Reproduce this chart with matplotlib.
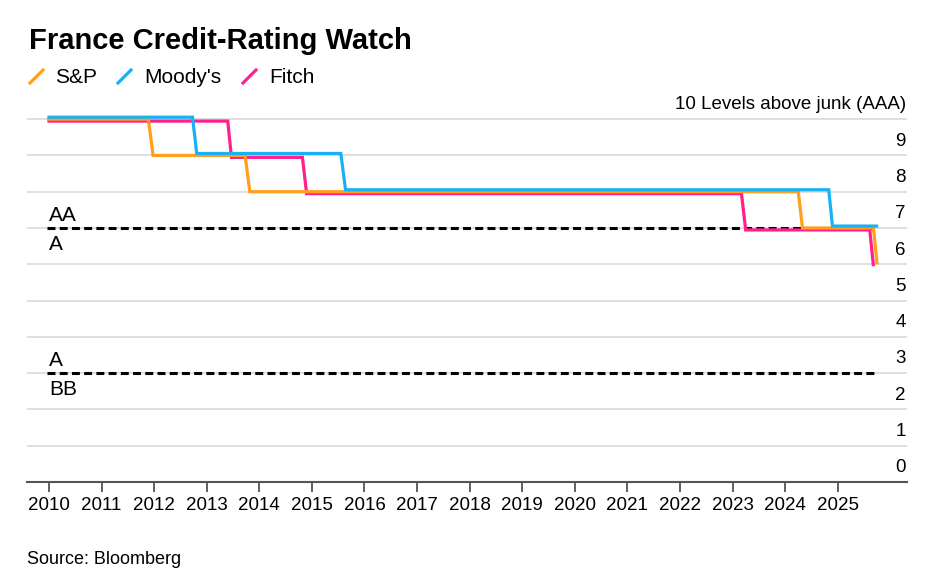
import matplotlib
matplotlib.use("Agg")
import matplotlib.pyplot as plt
import matplotlib.transforms as mtransforms
from matplotlib.lines import Line2D

plt.rcParams["font.family"] = ["Liberation Sans", "DejaVu Sans"]

# rating levels above junk (x in decimal years)
sp_x = [2009.97, 2011.89, 2011.98, 2013.73, 2013.82, 2024.25, 2024.33, 2025.68, 2025.75]
sp_y = [10, 10, 9, 9, 8, 8, 7, 7, 6]
moodys_x = [2009.97, 2012.73, 2012.81, 2015.55, 2015.64, 2024.83, 2024.90, 2025.77]
moodys_y = [10, 10, 9, 9, 8, 8, 7, 7]
fitch_x = [2009.97, 2013.40, 2013.47, 2014.82, 2014.90, 2023.17, 2023.25, 2025.61, 2025.68]
fitch_y = [10, 10, 9, 9, 8, 8, 7, 7, 6]

years = list(range(2010, 2026))
levels = list(range(0, 11))
level_labels = [str(v) for v in levels[:-1]] + ["10 Levels above junk (AAA)"]
# dashed boundaries: (level, label above, label below)
boundaries = [(7, "AA", "A"), (3, "A", "BB")]

series = [
    ("Fitch", fitch_x, fitch_y, "#FF1F8E", -1.4),
    ("S&P", sp_x, sp_y, "#FF9F1C", 0.0),
    ("Moody's", moodys_x, moodys_y, "#1AB0F5", 1.4),
]

W, H = 945, 585
fig = plt.figure(figsize=(W / 100, H / 100), dpi=100)


def fx(px):
    return px / W


def fy(py):
    return 1 - py / H


ax = fig.add_axes([fx(27), fy(482), fx(907) - fx(27), fy(101) - fy(482)])
ax.set_xlim(2009.582, 2026.318)
ax.set_ylim(0, 10.5)

# grid
ax.set_yticks(levels)
ax.yaxis.grid(True, color="#dcdcdc", linewidth=1.3)
ax.set_axisbelow(True)
ax.tick_params(axis="y", left=False, labelleft=False)
for s in ["top", "right", "left"]:
    ax.spines[s].set_visible(False)
ax.spines["bottom"].set_color("#555555")
ax.spines["bottom"].set_linewidth(1.5)
ax.set_xticks(years)
ax.set_xticklabels([str(y) for y in years], fontsize=13.5)
ax.tick_params(axis="x", length=7, width=1.3, color="#555555", pad=4)

# dashed rating boundaries
x_end = max(sp_x[-1], moodys_x[-1], fitch_x[-1])
for lvl, above, below in boundaries:
    ax.plot([sp_x[0], x_end], [lvl, lvl], color="black", linewidth=2.2,
            linestyle=(0, (2.6, 1.4)), zorder=3)
    ax.annotate(above, xy=(sp_x[0], lvl), xytext=(1, 4.8), textcoords="offset points",
                ha="left", va="baseline", fontsize=15)
    ax.annotate(below, xy=(sp_x[0], lvl), xytext=(1, -15.6), textcoords="offset points",
                ha="left", va="baseline", fontsize=15)

# rating lines (slightly offset so overlapping steps stay visible)
for name, xs, ys, col, dy in series:
    tr = ax.transData + mtransforms.ScaledTranslation(0, dy / 72, fig.dpi_scale_trans)
    ax.plot(xs, ys, color=col, linewidth=2.3, transform=tr, zorder=4,
            solid_joinstyle="miter", solid_capstyle="butt")

# right-side level labels sitting above each gridline
blend = mtransforms.blended_transform_factory(ax.transAxes, ax.transData)
for lvl, lab in zip(levels, level_labels):
    ax.annotate(lab, xy=(1, lvl), xycoords=blend, xytext=(-0.8, 7), textcoords="offset points",
                ha="right", va="baseline", fontsize=13.5)

# title, legend, source
fig.text(fx(29), fy(49), "France Credit-Rating Watch", fontsize=21, fontweight="bold",
         ha="left", va="baseline")

legend_items = [("S&P", "#FF9F1C", 30, 55), ("Moody's", "#1AB0F5", 118, 144), ("Fitch", "#FF1F8E", 243, 269)]
for lab, col, sx, tx in legend_items:
    fig.add_artist(Line2D([fx(sx), fx(sx + 13)], [fy(83), fy(70)], color=col,
                          linewidth=2.3, transform=fig.transFigure))
    fig.text(fx(tx), fy(83), lab, fontsize=15, ha="left", va="baseline")

fig.text(fx(27), fy(564), "Source: Bloomberg", fontsize=13, ha="left", va="baseline")

fig.savefig("out.png", dpi=100)
